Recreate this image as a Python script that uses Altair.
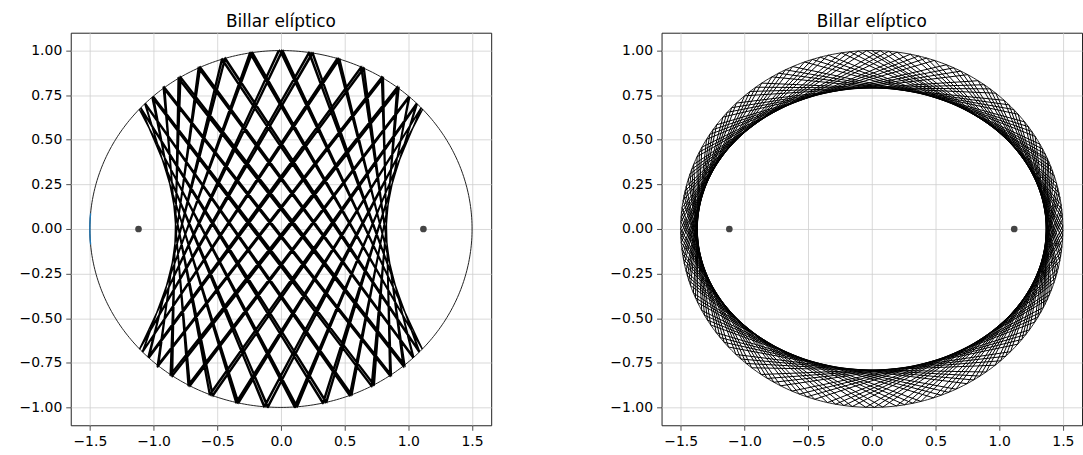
import altair as alt
import numpy as np
import pandas as pd

# Table (ellipse) semi-axes and its foci
SEMI_A = 1.5
SEMI_B = 1.0
FOCI_X = [-1.118, 1.118]
FOCI_Y = [0.0, 0.0]

# Launch conditions of each ball: start point on the cushion, direction, number of bounces
START_LEFT = (0.0, 1.0)
DIR_LEFT = (1.0, -1.5073)
BOUNCES_LEFT = 144

START_RIGHT = (0.0, 1.0)
DIR_RIGHT = (1.0, -0.448)
BOUNCES_RIGHT = 160

# Short highlighted arc of the cushion near the left vertex (parameter angle, degrees)
ARC_DEG = [175.0, 185.0]

X_TICKS = [-1.5, -1.0, -0.5, 0.0, 0.5, 1.0, 1.5]
Y_TICKS = [-1.0, -0.75, -0.5, -0.25, 0.0, 0.25, 0.5, 0.75, 1.0]
X_DOMAIN = [-1.65, 1.65]
Y_DOMAIN = [-1.1, 1.1]
TITLE = "Billar elíptico"


def bounce_path(start, direction, n):
    """Follow a ball inside the ellipse, reflecting it off the cushion n times."""
    a2, b2 = SEMI_A ** 2, SEMI_B ** 2
    p = np.array(start, dtype=float)
    d = np.array(direction, dtype=float)
    d /= np.linalg.norm(d)
    pts = [p.copy()]
    for _ in range(n):
        qa = d[0] ** 2 / a2 + d[1] ** 2 / b2
        qb = 2 * (p[0] * d[0] / a2 + p[1] * d[1] / b2)
        qc = p[0] ** 2 / a2 + p[1] ** 2 / b2 - 1
        t = (-qb + np.sqrt(max(qb * qb - 4 * qa * qc, 0.0))) / (2 * qa)
        p = p + t * d
        nrm = np.array([p[0] / a2, p[1] / b2])
        nrm /= np.linalg.norm(nrm)
        d = d - 2 * np.dot(d, nrm) * nrm
        pts.append(p.copy())
    arr = np.array(pts)
    return pd.DataFrame({"x": arr[:, 0], "y": arr[:, 1], "i": np.arange(len(arr))})


def ellipse_df(t0=0.0, t1=360.0, n=400):
    t = np.radians(np.linspace(t0, t1, n))
    return pd.DataFrame({"x": SEMI_A * np.cos(t), "y": SEMI_B * np.sin(t), "i": np.arange(n)})


xs = alt.Scale(domain=X_DOMAIN, nice=False, zero=False, padding=0)
ys = alt.Scale(domain=Y_DOMAIN, nice=False, zero=False, padding=0)
x_axis = alt.Axis(values=X_TICKS, format=".1f", title=None)
y_axis = alt.Axis(values=Y_TICKS, format=".2f", title=None)


def panel(path_df, width_px, with_arc):
    enc = dict(
        x=alt.X("x:Q", scale=xs, axis=x_axis),
        y=alt.Y("y:Q", scale=ys, axis=y_axis),
        order="i:Q",
    )
    rim = alt.Chart(ellipse_df()).mark_line(
        color="#222222", strokeWidth=1.0, clip=True
    ).encode(**enc)
    path = alt.Chart(path_df).mark_line(
        color="black", strokeWidth=width_px, clip=True
    ).encode(**enc)
    layers = [rim, path]
    if with_arc:
        arc = alt.Chart(ellipse_df(ARC_DEG[0], ARC_DEG[1], 20)).mark_line(
            color="#1f77b4", strokeWidth=1.4, clip=True
        ).encode(**enc)
        layers.append(arc)
    foci = alt.Chart(pd.DataFrame({"x": FOCI_X, "y": FOCI_Y})).mark_circle(
        color="#444444", size=45, opacity=1
    ).encode(x=alt.X("x:Q", scale=xs, axis=x_axis), y=alt.Y("y:Q", scale=ys, axis=y_axis))
    layers.append(foci)
    return alt.layer(*layers).properties(
        width=422,
        height=394,
        title=alt.TitleParams(TITLE, fontSize=17, font="DejaVu Sans", fontWeight="normal",
                              color="black", offset=-15, baseline="bottom", anchor="middle"),
    )


left = panel(bounce_path(START_LEFT, DIR_LEFT, BOUNCES_LEFT), 1.3, True)
right = panel(bounce_path(START_RIGHT, DIR_RIGHT, BOUNCES_RIGHT), 1.0, False)

chart = alt.hconcat(left, right, spacing=117).properties(
    padding={"left": 18, "top": 11, "right": 0, "bottom": 0}, background="white"
).configure_view(
    stroke="#222222", strokeWidth=1
).configure_axis(
    grid=True,
    gridColor="#cfcfcf",
    gridWidth=0.8,
    domain=False,
    tickColor="#222222",
    tickSize=5,
    tickWidth=0.8,
    labelPadding=4,
    labelFont="DejaVu Sans",
    labelFontSize=14,
    labelColor="black",
)

chart.save("out.html", embed_options={"renderer": "svg", "actions": False})
